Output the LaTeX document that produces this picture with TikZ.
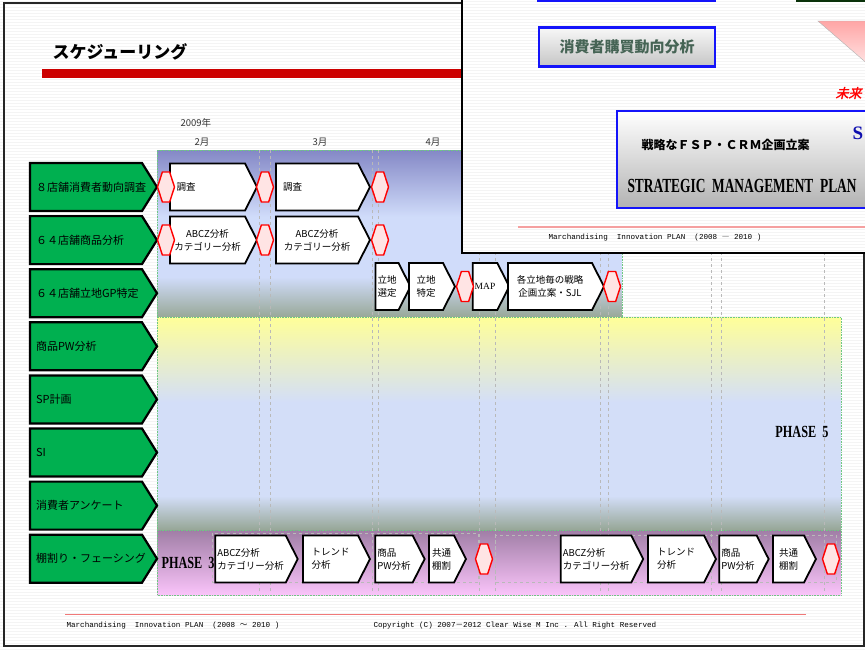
\documentclass[tikz,border=0pt]{standalone}
\usepackage{fontspec}
\setmainfont{Liberation Serif}
\newfontfamily\cjk{Noto Sans CJK JP}
\newfontfamily\cjkslant[FakeSlant=0.25,FakeBold=2]{Noto Sans CJK JP}
\newfontfamily\mono{Liberation Mono}
\usetikzlibrary{shapes,arrows}
\definecolor{lanegreen}{RGB}{0,176,80}
\definecolor{gatepink}{RGB}{255,228,228}
\definecolor{phasegreen}{RGB}{110,200,130}
\definecolor{ponetop}{RGB}{132,136,198}
\definecolor{ponelight}{RGB}{208,220,250}
\definecolor{ponebot}{RGB}{152,168,152}
\definecolor{ptwotop}{RGB}{255,255,153}
\definecolor{ptwolight}{RGB}{211,222,248}
\definecolor{ptwobot}{RGB}{150,166,150}
\definecolor{pthreetop}{RGB}{160,126,166}
\definecolor{pthreebot}{RGB}{250,196,250}
\definecolor{titlered}{RGB}{204,0,0}
\definecolor{footred}{RGB}{240,120,120}
\definecolor{smpblue}{RGB}{20,20,250}
\definecolor{boxtext}{RGB}{70,100,85}
\definecolor{darkframe}{RGB}{10,50,10}
\pgfdeclareverticalshading{phaseone}{100bp}{color(0bp)=(ponebot); color(25bp)=(ponebot); color(37bp)=(ponelight); color(55bp)=(ponelight); color(75bp)=(ponetop); color(100bp)=(ponetop)}
\pgfdeclareverticalshading{phasetwo}{100bp}{color(0bp)=(ptwobot); color(25bp)=(ptwobot); color(33bp)=(ptwolight); color(55bp)=(ptwolight); color(75bp)=(ptwotop); color(100bp)=(ptwotop)}

\begin{document}
\begin{tikzpicture}[x=1pt, y=-1pt,
	lane/.style={
		node distance=53.1pt,
		signal,
		signal to=east,
		signal pointer angle=116,
		draw,
		line width=2.2pt,
		fill=lanegreen,
		minimum width=127pt,
		minimum height=48pt,
		inner sep=2pt,
		text width=100pt,
		align=left,
		font=\cjk\fontsize{11}{13}\selectfont},
	task/.style={
		signal,
		signal to=east,
		signal pointer angle=126,
		draw,
		line width=1.8pt,
		fill=white,
		minimum height=47pt,
		inner sep=2pt,
		align=center,
		font=\cjk\fontsize{9.5}{13}\selectfont},
	gate/.style={
		signal,
		signal to=east and west,
		signal pointer angle=144,
		draw=red,
		line width=1.4pt,
		fill=gatepink,
		minimum width=17pt,
		minimum height=30pt,
		inner sep=0pt},
	phasetag/.style={
		font=\fontsize{17}{20}\selectfont\bfseries},
	month/.style={
		text=black!80,
		font=\cjk\fontsize{9.5}{11}\selectfont},
	phase/.style={draw=phasegreen, densely dotted, line width=0.6pt},
	guide/.style={draw=gray!55, dashed, line width=0.7pt},
	stripe/.style={draw=gray!9, line width=1pt},
	foot/.style={anchor=west, font=\mono\fontsize{7.6}{9}\selectfont}]

    \useasboundingbox (0,0) rectangle (865,649);
    % Background
    \fill[white] (0,0) rectangle (865,649);
    \foreach \y in {1,4,...,649}
        \draw[stripe] (0,\y) -- (865,\y);

    % Title and time axis
    \node[anchor=west, font=\cjk\bfseries\fontsize{17}{20}\selectfont] (title) at (49,52) {スケジューリング};
    \fill[titlered] (42,69) rectangle (462,78);
    \node[month, anchor=west] (year) at (177,123) {2009年};
    \node[month] (feb) at (202,142) {2月};
    \node[month] (mar) at (320,142) {3月};
    \node[month] (apr) at (433,142) {4月};

    % Phase areas
    \shade[shading=phaseone] (157,150) rectangle (622,317);
    \draw[phase] (157,150) rectangle (622,317);
    \shade[shading=phasetwo] (157,317) rectangle (841,530);
    \draw[phase] (157,317) rectangle (841,530);
    \shade[top color=pthreetop, bottom color=pthreebot] (157,530) rectangle (841,595);
    \draw[phase] (157,530) rectangle (841,595);
    \foreach \x in {259,270,372,378,479,495,600,608,711,721,824}
        \draw[guide] (\x,150) -- (\x,592);
    \draw[guide] (212,533) rectangle (478,582);
    \draw[guide] (495,535) rectangle (836,582);
    \node[phasetag, anchor=east] (phasefive) at (832,432) {\scalebox{0.72}[1]{PHASE\ \ 5}};
    \node[phasetag, anchor=west] (phasethree) at (158,563) {\scalebox{0.72}[1]{PHASE\ \ 3}};

    % Lanes
    \node [lane] (survey) at (86,187) {８店舗消費者動向調査};
    \node [lane, below of=survey] (goods) {６４店舗商品分析};
    \node [lane, below of=goods] (site) {６４店舗立地GP特定};
    \node [lane, below of=site] (pw) {商品PW分析};
    \node [lane, below of=pw] (sp) {SP計画};
    \node [lane, below of=sp] (si) {SI};
    \node [lane, below of=si] (enquete) {消費者アンケート};
    \node [lane, below of=enquete] (shelf) {棚割り・フェーシング};

    % Tasks
    \node [task, minimum width=87pt, text width=62pt, align=left] (surveya) at (207.5,187) {調査};
    \node [task, minimum width=94pt, text width=68pt, align=left] (surveyb) at (317,187) {調査};
    \node [task, minimum width=87pt] (goodsa) at (207.5,240) {ABCZ分析\\カテゴリー分析};
    \node [task, minimum width=94pt] (goodsb) at (317,240) {ABCZ分析\\カテゴリー分析};
    \node [task, minimum width=32pt] (sitea) at (387,286.5) {立地\\選定};
    \node [task, minimum width=46pt] (siteb) at (426,286.5) {立地\\特定};
    \node [task, minimum width=32pt, font=\fontsize{9.5}{12}\selectfont] (sitemap) at (485,286.5) {MAP};
    \node [task, minimum width=96pt] (sitec) at (550,286.5) {各立地毎の戦略\\企画立案・SJL};
    \node [task, minimum width=81pt, align=left] (shelfa) at (250.5,559) {ABCZ分析\\カテゴリー分析};
    \node [task, minimum width=67pt, align=left] (shelfb) at (330.5,559) {トレンド\\分析};
    \node [task, minimum width=48pt, align=left] (shelfc) at (394,559) {商品\\PW分析};
    \node [task, minimum width=37pt, align=left] (shelfd) at (441.5,559) {共通\\棚割};
    \node [task, minimum width=82pt, align=left] (shelfe) at (596,559) {ABCZ分析\\カテゴリー分析};
    \node [task, minimum width=68pt, align=left] (shelff) at (676,559) {トレンド\\分析};
    \node [task, minimum width=48pt, align=left] (shelfg) at (738,559) {商品\\PW分析};
    \node [task, minimum width=43pt, align=left] (shelfh) at (788.5,559) {共通\\棚割};

    % Gates
    \node [gate] (g1) at (166,187) {};
    \node [gate] (g2) at (265,187) {};
    \node [gate] (g3) at (380,187) {};
    \node [gate] (g4) at (166,240) {};
    \node [gate] (g5) at (265,240) {};
    \node [gate] (g6) at (380,240) {};
    \node [gate] (g7) at (465,286.5) {};
    \node [gate] (g8) at (612,286.5) {};
    \node [gate] (g9) at (484,559) {};
    \node [gate] (g10) at (831,559) {};

    % Footer
    \draw[footred, line width=1pt] (65,614) -- (806,614);
    \node[foot] (mip) at (63,626) {Marchandising\ \ Innovation PLAN\ \ (2008 {\cjk ～} 2010 )};
    \node[foot] (copy) at (370,626) {Copyright (C) 2007{\cjk －}2012 Clear Wise M Inc . All Right Reserved};
    \draw[line width=2pt, black!85] (864,3) -- (4,3) -- (4,646) -- (864,646) -- cycle;

    % Overlapping window
    \begin{scope}
        \clip (462,0) rectangle (865,253);
        \fill[white] (462,0) rectangle (865,253);
        \foreach \y in {1,4,...,253}
            \draw[stripe] (462,\y) -- (865,\y);
        \draw[smpblue, line width=2pt, fill=white] (538,-10) rectangle (715,1);
        \draw[darkframe, line width=2pt, fill=white] (797,-10) rectangle (880,1);
        \node[draw=smpblue, line width=2.2pt, top color=gray!6, bottom color=gray!45,
              minimum width=176pt, minimum height=39pt, text=boxtext,
              font=\cjk\bfseries\fontsize{15}{17}\selectfont] (buyer) at (627,47) {消費者購買動向分析};
        \shade[top color=red!35, bottom color=red!10, draw=gray!60] (818,21) -- (870,21) -- (870,66) -- cycle;
        \node[anchor=west, text=red, font=\cjkslant\fontsize{13}{15}\selectfont] (future) at (832,93) {未来};
        \node[draw=smpblue, line width=2.2pt, top color=white, bottom color=gray!60,
              minimum width=270pt, minimum height=97pt] (plan) at (752,159.5) {};
        \node[anchor=west, font=\cjk\bfseries\fontsize{12}{14}\selectfont] (fspcrm) at (638,145) {戦略なＦＳＰ・ＣＲＭ企画立案};
        \node[anchor=west, text=smpblue!70!black, font=\bfseries\fontsize{19}{20}\selectfont] (bigs) at (849,133) {S};
        \node[anchor=west, font=\bfseries\fontsize{20}{22}\selectfont] (smp) at (624,186) {\scalebox{0.67}[1]{STRATEGIC\ \ MANAGEMENT\ \ PLAN}};
        \draw[footred!70, line width=1.5pt] (518,227) -- (865,227);
        \node[foot] (mipb) at (545,238) {Marchandising\ \ Innovation PLAN\ \ (2008 {\cjk ―} 2010 )};
    \end{scope}
    \draw[line width=2.5pt] (462,0) -- (462,253) -- (865,253);
\end{tikzpicture}
\end{document}
